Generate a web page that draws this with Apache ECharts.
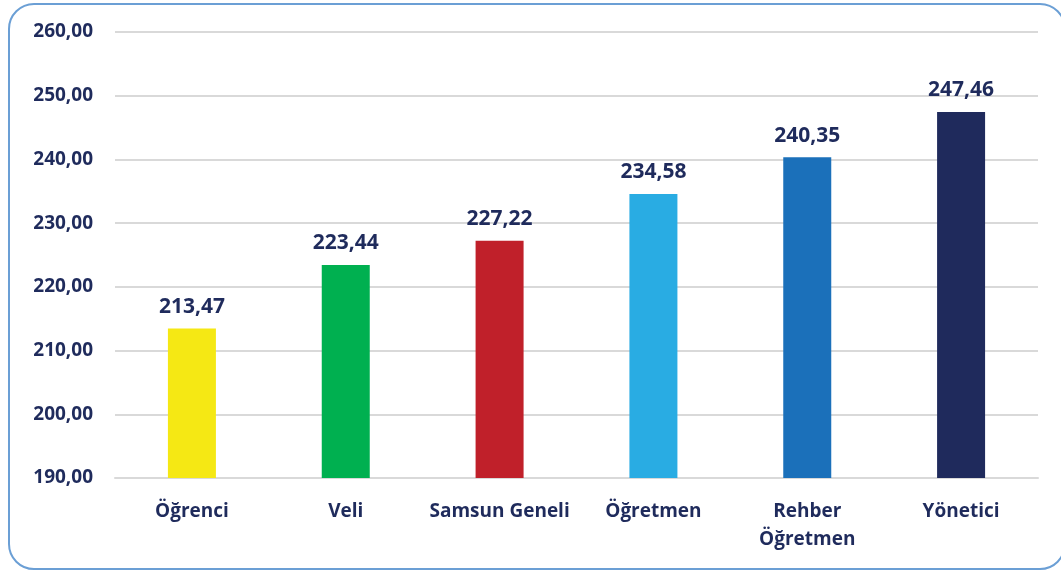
<!DOCTYPE html>
<html lang="tr">
<head>
    <meta charset="UTF-8">
    <title>Grafik</title>
    <style>
        body { margin: 0; padding: 0; background: #fff; overflow: hidden; }
        #frame {
            position: absolute; left: 8px; top: 3px;
            width: 1054px; height: 563px;
            border: 2px solid #6b9fd5; border-radius: 26px;
        }
        #main { position: absolute; left: 0; top: 0; width: 1061px; height: 574px; }
    </style>
</head>
<body>
    <div id="frame"></div>
    <div id="main"></div>
    <script src="https://cdn.jsdelivr.net/npm/echarts@6/dist/echarts.min.js"></script>
    <script>
        var categories = ['Öğrenci', 'Veli', 'Samsun Geneli', 'Öğretmen', 'Rehber\nÖğretmen', 'Yönetici'];
        var values = [213.47, 223.44, 227.22, 234.58, 240.35, 247.46];
        var barColors = ['#f5e814', '#00b050', '#c0202a', '#29ace3', '#1b70ba', '#1f2a5c'];
        var yTicks = [190, 200, 210, 220, 230, 240, 250, 260];

        var textColor = '#1f2b5c';
        var fmt = function (v) { return v.toFixed(2).replace('.', ','); };

        var chart = echarts.init(document.getElementById('main'));
        var option = {
            animation: false,
            grid: { left: 115, right: 23, top: 32, bottom: 96 },
            xAxis: {
                type: 'category',
                data: categories,
                axisLine: { lineStyle: { color: '#d9d9d9', width: 2 } },
                axisTick: { show: false },
                axisLabel: {
                    color: textColor, fontFamily: 'Open Sans', fontWeight: 'bold',
                    fontSize: 19, margin: 20, lineHeight: 28, interval: 0
                }
            },
            yAxis: {
                type: 'value',
                min: yTicks[0], max: yTicks[yTicks.length - 1], interval: 10,
                axisLine: { show: false },
                axisTick: { show: false },
                splitLine: { lineStyle: { color: '#d9d9d9', width: 2 } },
                axisLabel: {
                    color: textColor, fontFamily: 'Open Sans', fontWeight: 'bold',
                    fontSize: 19, margin: 22, formatter: fmt
                }
            },
            series: [{
                type: 'bar',
                barWidth: 48,
                data: values.map(function (v, i) {
                    return { value: v, itemStyle: { color: barColors[i] } };
                }),
                label: {
                    show: true, position: 'top', distance: 11,
                    color: textColor, fontFamily: 'Open Sans', fontWeight: 'bold', fontSize: 21,
                    formatter: function (p) { return fmt(p.value); }
                }
            }]
        };
        chart.setOption(option);
    </script>
</body>
</html>
